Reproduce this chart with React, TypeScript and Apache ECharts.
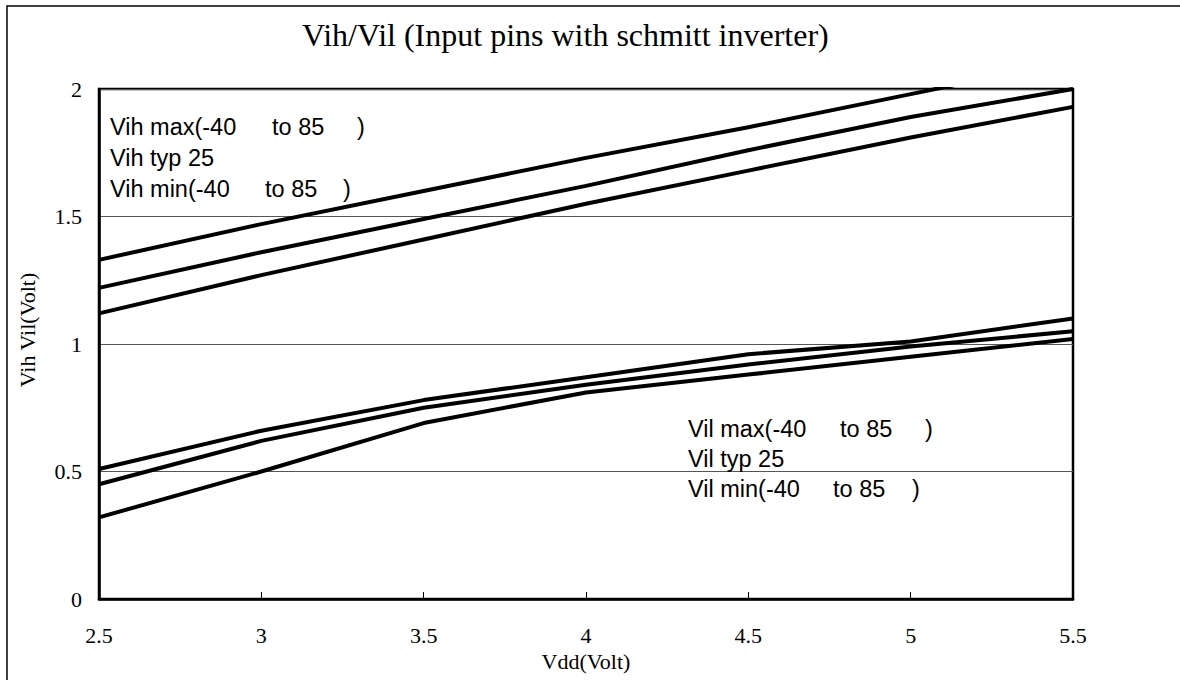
import React, { useEffect, useRef } from "react";
import * as echarts from "echarts";

const vdd = [2.5, 3, 3.5, 4, 4.5, 5, 5.5];
const vihMax = [1.33, 1.47, 1.6, 1.73, 1.85, 1.98, 2.11];
const vihTyp = [1.22, 1.36, 1.49, 1.62, 1.76, 1.89, 2.0];
const vihMin = [1.12, 1.27, 1.41, 1.55, 1.68, 1.81, 1.93];
const vilMax = [0.51, 0.66, 0.78, 0.87, 0.96, 1.01, 1.1];
const vilTyp = [0.45, 0.62, 0.75, 0.84, 0.92, 0.99, 1.05];
const vilMin = [0.32, 0.5, 0.69, 0.81, 0.88, 0.95, 1.02];

const seriesNames = [
  "Vih max(-40 to 85 )",
  "Vih typ 25",
  "Vih min(-40 to 85 )",
  "Vil max(-40 to 85 )",
  "Vil typ 25",
  "Vil min(-40 to 85 )",
];
const seriesValues = [vihMax, vihTyp, vihMin, vilMax, vilTyp, vilMin];

const titleText = "Vih/Vil (Input pins with schmitt inverter)";
const xName = "Vdd(Volt)";
const yName = "Vih Vil(Volt)";

// label pieces: [first part, second part, closing]
const labelPieces = [
  ["Vih max(-40", "to 85", ")"],
  ["Vih typ 25", "", ""],
  ["Vih min(-40", "to 85", ")"],
  ["Vil max(-40", "to 85", ")"],
  ["Vil typ 25", "", ""],
  ["Vil min(-40", "to 85", ")"],
];

const SANS = "'Liberation Sans', Arial, sans-serif";
const SERIF = "'Liberation Serif', 'Times New Roman', serif";

export default function App() {
  const ref = useRef<HTMLDivElement>(null);

  useEffect(() => {
    document.body.style.margin = "0";
    if (!ref.current) return;
    const chart = echarts.init(ref.current, null, { renderer: "svg" });

    const labelLayout = [
      { x: [110, 272, 357], y: 127 },
      { x: [110, 0, 0], y: 158 },
      { x: [110, 265, 343], y: 189 },
      { x: [688, 840, 925], y: 429 },
      { x: [688, 0, 0], y: 459 },
      { x: [688, 833, 912], y: 489 },
    ];

    const labelTexts: any[] = [];
    labelPieces.forEach((pieces, i) => {
      pieces.forEach((p, j) => {
        if (!p) return;
        labelTexts.push({
          type: "text",
          x: labelLayout[i].x[j],
          y: labelLayout[i].y,
          z: 10,
          style: {
            text: p,
            fill: "#000",
            fontSize: 23.5,
            fontFamily: SANS,
            textAlign: "left",
            textVerticalAlign: "middle",
          },
        });
      });
    });

    const option: any = {
      animation: false,
      backgroundColor: "#fff",
      title: {
        text: titleText,
        left: 302,
        top: 19,
        padding: 0,
        textStyle: {
          fontFamily: SERIF,
          fontSize: 32,
          fontWeight: "normal",
          color: "#000",
          lineHeight: 32,
        },
      },
      grid: {
        left: 99,
        right: 107,
        top: 89,
        bottom: 81,
        show: true,
        borderColor: "#000",
        borderWidth: 2.5,
        backgroundColor: "transparent",
      },
      xAxis: {
        type: "value",
        min: 2.5,
        max: 5.5,
        interval: 0.5,
        name: xName,
        nameLocation: "middle",
        nameGap: 51,
        nameTextStyle: { fontFamily: SERIF, fontSize: 22, color: "#000" },
        axisLine: { show: true, onZero: false, lineStyle: { color: "#000", width: 2.5 } },
        axisTick: { show: true, inside: true, length: 7, lineStyle: { color: "#000", width: 1 } },
        axisLabel: { fontFamily: SERIF, fontSize: 22, color: "#000", margin: 25 },
        splitLine: { show: false },
      },
      yAxis: {
        type: "value",
        min: 0,
        max: 2,
        interval: 0.5,
        axisLine: { show: true, lineStyle: { color: "#000", width: 2.5 } },
        axisTick: { show: false },
        axisLabel: { fontFamily: SERIF, fontSize: 22, color: "#000", margin: 17 },
        splitLine: { show: true, lineStyle: { color: "#555", width: 1 } },
      },
      series: seriesNames.map((name, i) => ({
        name,
        type: "line",
        symbol: "none",
        clip: true,
        data: vdd.map((x, k) => [x, seriesValues[i][k]]),
        lineStyle: { color: "#000", width: 4 },
        z: 3,
      })),
      graphic: [
        {
          type: "rect",
          shape: { x: 7, y: 6, width: 1250, height: 750 },
          style: { fill: "none", stroke: "#000", lineWidth: 1.5 },
          z: -10,
          silent: true,
        },
        {
          type: "text",
          x: 27,
          y: 330,
          rotation: Math.PI / 2,
          style: {
            text: yName,
            fill: "#000",
            fontSize: 22,
            fontFamily: SERIF,
            textAlign: "center",
            textVerticalAlign: "middle",
          },
        },
        ...labelTexts,
      ],
    };

    chart.setOption(option);
    return () => chart.dispose();
  }, []);

  return <div ref={ref} style={{ width: 1180, height: 680 }} />;
}
